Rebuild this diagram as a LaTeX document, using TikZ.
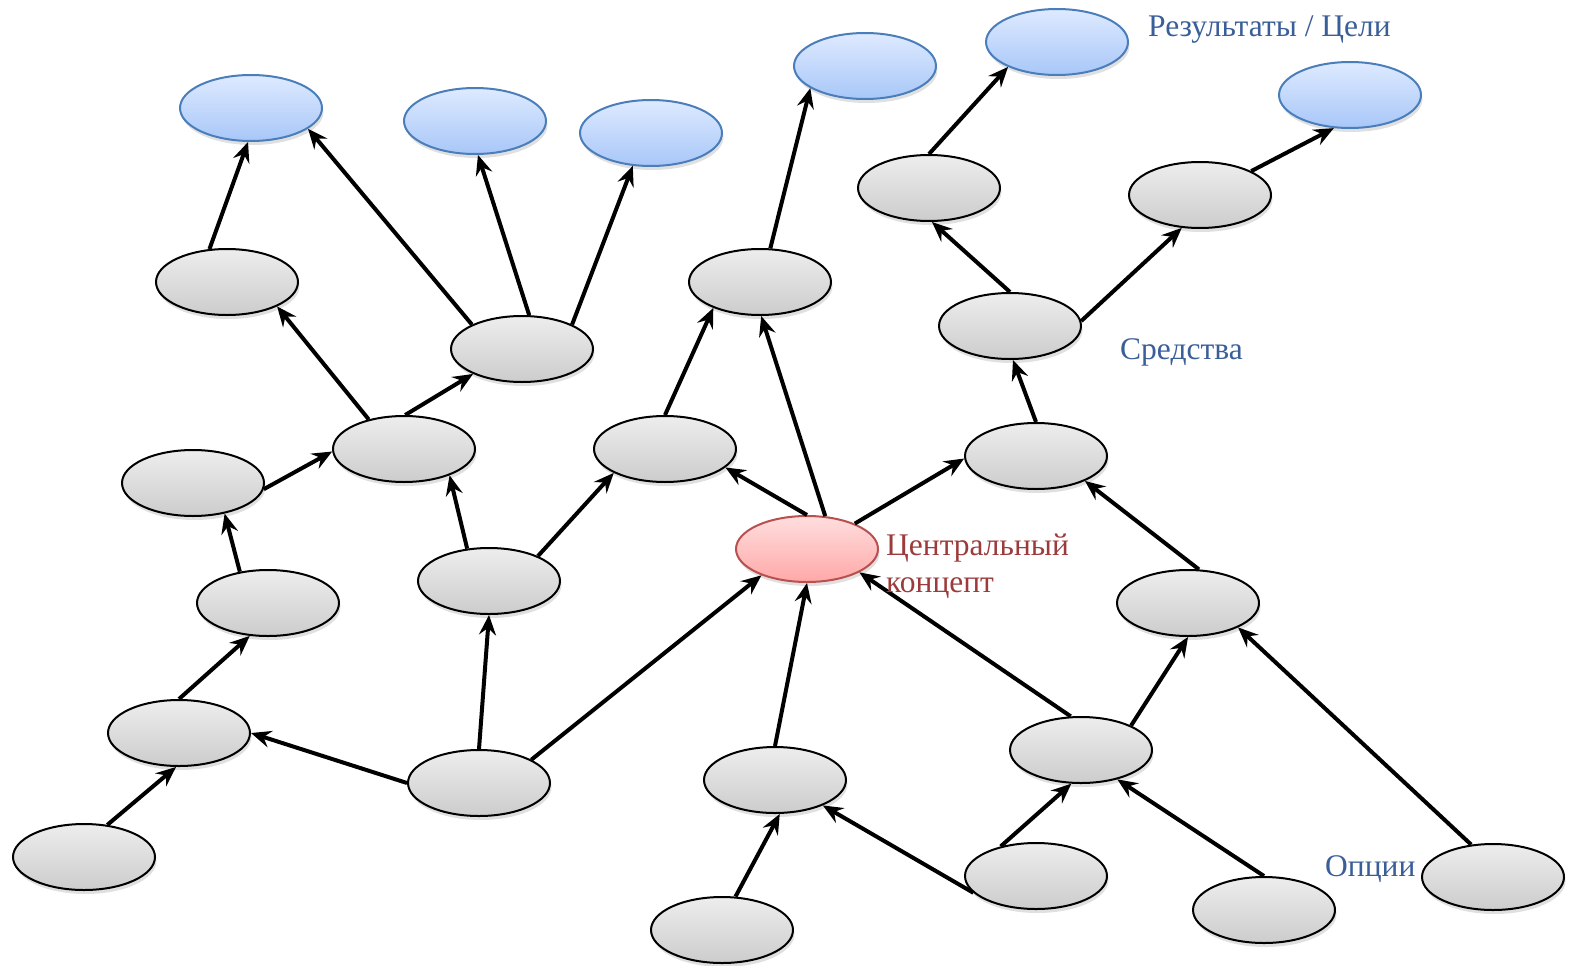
\documentclass[tikz,border=0pt]{standalone}
\usepackage{fontspec}
\setmainfont{Liberation Serif}
\usetikzlibrary{arrows.meta,shadows,shapes.geometric}
\definecolor{bluetext}{HTML}{3A5E98}
\definecolor{redtext}{HTML}{9B3B3B}
\definecolor{blueborder}{HTML}{4A7EBB}
\definecolor{redborder}{HTML}{B85050}
\tikzset{
  ell/.style={ellipse, minimum width=142pt, minimum height=66pt, inner sep=0pt, line width=2pt,
    drop shadow={shadow xshift=1.5pt, shadow yshift=-4pt, opacity=0.12, fill=black}},
  gnode/.style={ell, draw=black, top color=white!93!black, bottom color=white!80!black},
  bnode/.style={ell, draw=blueborder, top color={rgb,255:red,222;green,234;blue,255}, bottom color={rgb,255:red,168;green,199;blue,248}},
  rnode/.style={ell, draw=redborder, top color={rgb,255:red,255;green,222;blue,222}, bottom color={rgb,255:red,255;green,168;blue,168}},
  conn/.style={line width=4pt, -{Stealth[length=20pt,width=17pt,inset=7pt]}},
  lbl/.style={font=\fontsize{31.5}{37}\selectfont, inner sep=0pt},
}
\begin{document}
\begin{tikzpicture}[x=1pt,y=-1pt]
\useasboundingbox (0,0) rectangle (1571,966);
% blue
\node[bnode] (B1) at (251,108) {};
\node[bnode] (B2) at (475,121) {};
\node[bnode] (B3) at (651,133) {};
\node[bnode] (B4) at (865,66) {};
\node[bnode] (B5) at (1057,42) {};
\node[bnode] (B6) at (1350,95) {};
% gray
\node[gnode] (G1) at (227,282) {};
\node[gnode] (G2) at (522,349) {};
\node[gnode] (G3) at (760,282) {};
\node[gnode] (G4) at (929,188) {};
\node[gnode] (G5) at (1200,195) {};
\node[gnode] (G6) at (1010,326) {};
\node[gnode] (G7) at (404,449) {};
\node[gnode] (G8) at (193,483) {};
\node[gnode] (G9) at (665,449) {};
\node[gnode] (G10) at (1036,456) {};
\node[gnode] (G11) at (268,603) {};
\node[gnode] (G12) at (489,581) {};
\node[rnode] (R) at (807,549) {};
\node[gnode] (G13) at (1188,603) {};
\node[gnode] (G14) at (179,733) {};
\node[gnode] (G15) at (479,783) {};
\node[gnode] (G16) at (775,780) {};
\node[gnode] (G17) at (1081,750) {};
\node[gnode] (G18) at (84,857) {};
\node[gnode] (G19) at (722,930) {};
\node[gnode] (G20) at (1036,876) {};
\node[gnode] (G21) at (1264,910) {};
\node[gnode] (G22) at (1493,877) {};
% connectors
\draw[conn] (G1.118) -- (B1.265);
\draw[conn] (G2.154) -- (B1.340);
\draw[conn] (G2.78) -- (B2.275);
\draw[conn] (G2.26) -- (B3.241);
\draw[conn] (G7.140) -- (G1.334);
\draw[conn] (G7.88) -- (G2.207);
\draw[conn] (G8.355) -- (G7.182);
\draw[conn] (G11.132) -- (G8.316);
\draw[conn] (G12.124) -- (G7.330);
\draw[conn] (G12.27) -- (G9.205);
\draw[conn] (G9.90) -- (G3.209);
\draw[conn] (G3.73) -- (B4.202);
\draw[conn] (R.61) -- (G3.272);
\draw[conn] (R.90) -- (G9.343);
\draw[conn] (R.28) -- (G10.182);
\draw[conn] (G10.90) -- (G6.275);
\draw[conn] (G6.90) -- (G4.275);
\draw[conn] (G6.4) -- (G5.241);
\draw[conn] (G4.90) -- (B5.207);
\draw[conn] (G5.25) -- (B6.244);
\draw[conn] (G13.72) -- (G10.333);
\draw[conn] (G14.90) -- (G11.241);
\draw[conn] (G18.54) -- (G14.265);
\draw[conn] (G15.180) -- (G14.0);
\draw[conn] (G15.90) -- (G12.270);
\draw[conn] (G15.24) -- (R.210);
\draw[conn] (G16.90) -- (R.270);
\draw[conn] (G19.68) -- (G16.278);
\draw[conn] (G20.195) -- (G16.332);
\draw[conn] (G20.140) -- (G17.254);
\draw[conn] (G17.107) -- (R.336);
\draw[conn] (G17.26) -- (G13.270);
\draw[conn] (G21.90) -- (G17.321);
\draw[conn] (G22.124) -- (G13.334);
% labels
\node[lbl, text=bluetext, anchor=base west] (tRes) at (1148,37) {Результаты / Цели};
\node[lbl, text=bluetext, anchor=base west] (tMid) at (1120,359) {Средства};
\node[lbl, text=redtext, anchor=base west, align=left] (tCen) at (886,592) {Центральный\\концепт};
\node[lbl, text=bluetext, anchor=base west] (tOpt) at (1325,876) {Опции};
\end{tikzpicture}
\end{document}
